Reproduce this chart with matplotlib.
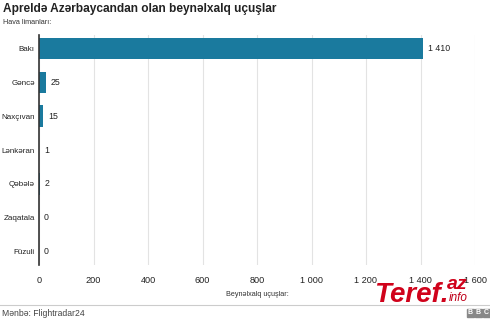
import matplotlib
matplotlib.use("Agg")
import matplotlib.pyplot as plt
from matplotlib.patches import Rectangle

airports = ["Bakı", "Gəncə", "Naxçıvan", "Lənkəran", "Qəbələ", "Zaqatala", "Füzuli"]
flights = [1410, 25, 15, 1, 2, 0, 0]
value_labels = ["1 410", "25", "15", "1", "2", "0", "0"]
x_ticks = [0, 200, 400, 600, 800, 1000, 1200, 1400, 1600]
x_tick_labels = ["0", "200", "400", "600", "800", "1 000", "1 200", "1 400", "1 600"]

plt.rcParams["font.family"] = ["Liberation Sans", "DejaVu Sans"]

fig = plt.figure(figsize=(4.9, 3.19), dpi=100)
ax = fig.add_axes([39 / 490, 1 - 265 / 319, 436 / 490, 230 / 319])

bar_color = "#1a7a9e"
ypos = list(range(len(airports)))
ax.barh(ypos, flights, height=0.64, color=bar_color, zorder=3)

for y, v, lab in zip(ypos, flights, value_labels):
    ax.annotate(lab, (v, y), xytext=(3.5, 0), textcoords="offset points",
                va="center", ha="left", fontsize=6.3, color="#222222", zorder=4)

ax.set_xlim(0, 1600)
ax.set_ylim(6.4, -0.4)
ax.set_yticks(ypos)
ax.set_yticklabels(airports, fontsize=5.8, color="#222222")
ax.set_xticks(x_ticks)
ax.set_xticklabels(x_tick_labels, fontsize=6.6, color="#222222")
ax.tick_params(axis="y", length=0, pad=3)
ax.tick_params(axis="x", length=0, pad=8)

for s in ["top", "right", "bottom"]:
    ax.spines[s].set_visible(False)
ax.spines["left"].set_color("#333333")
ax.spines["left"].set_linewidth(1.2)
ax.spines["left"].set_zorder(5)

ax.grid(axis="x", color="#e3e3e3", linewidth=0.8, zorder=0)
ax.set_axisbelow(True)

ax.set_xlabel("Beynəlxalq uçuşlar:", fontsize=5.2, color="#333333", labelpad=4)

fig.text(3 / 490, 1 - 9 / 319, "Apreldə Azərbaycandan olan beynəlxalq uçuşlar",
         fontsize=8.6, fontweight="bold", color="#222222", va="center", ha="left")
fig.text(3 / 490, 1 - 22 / 319, "Hava limanları:", fontsize=5.2,
         color="#333333", va="center", ha="left")

# footer rule, source and logo
fig.add_artist(plt.Line2D([0, 1], [1 - 305 / 319] * 2, color="#cccccc", linewidth=0.8))
fig.text(2 / 490, 1 - 313 / 319, "Mənbə: Flightradar24", fontsize=6.2,
         color="#444444", va="center", ha="left")
for i, ch in enumerate("BBC"):
    x0 = (467 + i * 8) / 490
    fig.add_artist(Rectangle((x0, 1 - 317 / 319), 7 / 490, 8 / 319,
                             transform=fig.transFigure, color="#888888"))
    fig.text(x0 + 3.5 / 490, 1 - 313 / 319, ch, fontsize=5, fontweight="bold",
             color="white", ha="center", va="center")

# site watermark
fig.text(374 / 490, 1 - 302 / 319, "Teref.", fontsize=20, fontweight="bold",
         style="italic", color="#d0021b", ha="left", va="baseline")
fig.text(447 / 490, 1 - 289 / 319, "az", fontsize=14, fontweight="bold",
         style="italic", color="#d0021b", ha="left", va="baseline")
fig.text(449 / 490, 1 - 301 / 319, "info", fontsize=8.5,
         style="italic", color="#c0001a", ha="left", va="baseline")

fig.savefig("out.png", dpi=100)
